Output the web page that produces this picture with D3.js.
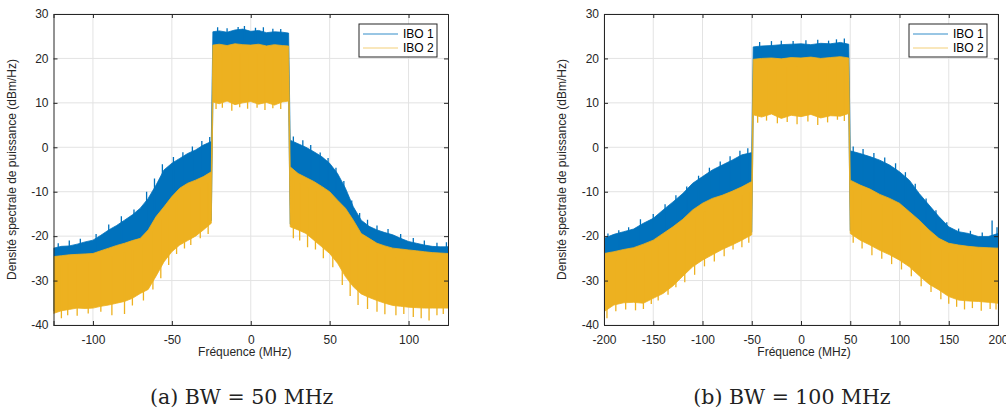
<!DOCTYPE html>
<html>
<head>
<meta charset="utf-8">
<script src="https://cdn.jsdelivr.net/npm/d3@7"></script>
<style>
  body { margin: 0; background: #fff; }
  svg { display: block; }
</style>
</head>
<body>
<svg id="chart" width="1006" height="410"></svg>
<script>
// ---- panel (a) : BW = 50 MHz ----
const freqA = [-125,-120,-115,-110,-105,-100,-95,-90,-85,-80,-75,-70,-65,-60,-55,-50,-45,-40,-35,-30,-25,
  -24,-20,-15,-10,-5,0,5,10,15,20,24,
  25,30,35,40,45,50,55,60,65,70,75,80,85,90,95,100,105,110,115,120,125];
const ibo1TopA = [-22.7,-22.3,-22.2,-21.8,-21.3,-20.9,-19.8,-18.6,-17.6,-16.4,-15.2,-13.7,-11.5,-8.5,-5.1,-3.6,-2.5,-1.4,-0.6,0.5,1.3,
  26.0,26.2,25.9,26.4,26.6,26.1,26.3,25.8,26.0,25.9,25.7,
  1.6,0.8,0.0,-1.0,-2.1,-3.6,-5.9,-9.2,-13.4,-16.4,-17.8,-18.6,-19.2,-19.7,-20.5,-21.2,-21.6,-22.0,-22.3,-22.4,-22.4];
const ibo2TopA = [-24.6,-24.4,-24.2,-24.1,-24.0,-23.9,-23.3,-22.7,-22.1,-21.6,-21.0,-20.5,-18.6,-15.6,-13.4,-11.1,-9.2,-8.1,-7.4,-6.6,-5.5,
  23.0,23.2,22.9,23.3,23.1,23.0,23.2,22.8,23.1,22.9,22.8,
  -4.4,-5.9,-6.8,-7.7,-8.8,-10.0,-11.9,-13.7,-16.4,-19.4,-20.5,-21.6,-22.2,-22.7,-22.9,-23.1,-23.3,-23.5,-23.7,-23.8,-23.9];
const ibo2BotA = [-37.4,-36.8,-36.5,-36.2,-36.3,-36.2,-35.8,-35.5,-35.1,-34.7,-34.0,-32.9,-32.0,-29.0,-25.8,-23.5,-22.0,-21.0,-20.0,-18.6,-17.1,
  10.2,9.8,10.4,9.6,10.0,10.3,9.7,10.1,9.5,10.2,10.4,
  -17.9,-18.6,-19.4,-20.9,-22.4,-23.9,-26.1,-29.1,-31.4,-33.0,-33.8,-34.5,-35.1,-35.6,-35.8,-36.0,-36.1,-36.2,-36.2,-36.2,-36.2];
// spikes seen on the edges: [frequency, value]
const ibo1PeaksA = [[-122,-21.6],[-115,-21],[-108,-20.6],[-98,-19.5],[-90,-17.4],[-82,-15.5],[-74,-14],[-66,-10],[-61,-7],
  [-56,-3.8],[-49,-2.2],[-43,-1.1],[-37,0.2],[-31,1.4],[-26,2.3],
  [-21,27],[-15,26.8],[-8,27.1],[-4,27.3],[3,26.9],[8,27],[14,26.7],[19,26.6],
  [27,2.4],[33,1.6],[38,0.5],[44,-1.2],[49,-2.4],[54,-4.6],[59,-7.6],[64,-12],[69,-14.8],[74,-16.3],[80,-17.6],
  [87,-18.4],[95,-19.5],[103,-20.4],[110,-21],[118,-21.5],[124,-21.4]];
const ibo2DipsA = [[-120,-38.5],[-116,-37.8],[-110,-37.9],[-103,-37.4],[-95,-37],[-88,-37.8],[-80,-37.5],[-75,-35.6],[-68,-34.5],
  [-62,-32],[-57,-29.5],[-52,-26.5],[-47,-24],[-42,-22.8],[-38,-22],[-32,-20.5],[-27,-19.5],
  [-22,8.6],[-18,8.9],[-12,8.2],[-7,9.0],[-2,8.7],[4,8.9],[9,8.4],[14,8.8],[19,8.6],
  [27,-20.5],[31,-21],[36,-22.5],[41,-23],[46,-25],[52,-27],[58,-31],[63,-33.5],[68,-35.5],[74,-36.4],[80,-37],
  [85,-37.6],[92,-37.8],[97,-37.5],[103,-38.2],[108,-38.5],[113,-39.0],[118,-37.8],[122,-37.5]];

// ---- panel (b) : BW = 100 MHz ----
const freqB = [-200,-190,-180,-170,-160,-150,-140,-130,-120,-110,-100,-90,-80,-70,-60,-50,
  -48.5,-40,-30,-20,-10,0,10,20,30,40,48.5,
  50,60,70,80,90,100,110,120,130,140,150,160,170,180,190,200];
const ibo1TopB = [-20.5,-19.6,-19.0,-18.4,-17.1,-16.0,-14.1,-12.3,-10.4,-8.1,-6.6,-5.1,-4.0,-2.9,-1.7,-1.2,
  22.6,22.8,22.9,23.1,23.2,23.3,23.1,23.4,23.3,23.6,23.2,
  -0.8,-1.4,-2.1,-2.9,-4.0,-5.5,-7.4,-10.4,-13.0,-15.6,-17.9,-19.0,-19.4,-20.1,-20.1,-19.4];
const ibo2TopB = [-23.9,-23.5,-23.0,-22.6,-21.8,-20.9,-19.4,-17.9,-16.2,-14.1,-12.6,-11.5,-10.8,-9.9,-8.9,-7.7,
  19.8,20.0,20.1,19.9,20.2,20.1,20.3,20.0,20.2,20.4,20.1,
  -7.4,-8.5,-9.4,-10.6,-11.5,-12.6,-14.5,-16.4,-18.6,-20.5,-21.6,-22.0,-22.3,-22.5,-22.6,-22.7];
const ibo2BotB = [-37.0,-35.5,-35.0,-34.9,-35.1,-34.0,-32.9,-31.2,-29.0,-26.9,-25.4,-24.2,-23.0,-22.0,-20.9,-19.7,
  7.3,6.8,7.5,6.5,7.2,6.9,7.4,6.6,7.1,7.0,7.6,
  -19.4,-20.9,-22.0,-23.2,-24.2,-25.4,-26.9,-28.9,-30.8,-32.1,-33.6,-34.4,-34.6,-34.7,-34.9,-35.1];
const ibo1PeaksB = [[-196,-19.4],[-185,-18.7],[-175,-18],[-163,-16.2],[-150,-15],[-138,-12.8],[-127,-10.8],[-116,-8.8],
  [-104,-6.4],[-93,-4.6],[-82,-3.2],[-72,-2],[-62,-0.8],[-54,-0.2],
  [-42,23.7],[-30,23.9],[-20,24],[-8,23.9],[5,24.1],[17,24.2],[28,24.0],[36,24.3],[44,24.5],
  [53,0.2],[63,-0.4],[74,-1.3],[85,-2.3],[96,-3.6],[106,-5.6],[116,-8.2],[127,-11.5],[137,-14.2],[148,-16.9],
  [160,-18.3],[172,-18.8],[184,-19.2],[194,-16.5],[199,-18]];
const ibo2DipsB = [[-197,-38.5],[-188,-36.9],[-178,-36.5],[-168,-36.7],[-160,-36.4],[-152,-35.3],[-145,-34.5],[-135,-33.2],
  [-127,-31.5],[-118,-30.4],[-108,-28.7],[-98,-26.8],[-88,-25.7],[-78,-24.5],[-69,-23],[-60,-22.5],[-53,-21.5],
  [-44,5.5],[-35,6.0],[-24,5.4],[-14,5.7],[-4,5.2],[7,5.8],[17,5.0],[27,5.6],[37,6.2],[44,5.9],
  [53,-21.5],[62,-22.8],[72,-24.3],[82,-25.1],[92,-26.3],[102,-27.5],[112,-29],[122,-31.3],[132,-32.6],[142,-34.2],
  [150,-35.2],[158,-35.9],[166,-36.5],[174,-36.2],[183,-36.8],[192,-36.4],[198,-36.5]];

const yTicks = [-40,-30,-20,-10,0,10,20,30];
const xTicksA = [-100,-50,0,50,100];
const xTicksB = [-200,-150,-100,-50,0,50,100,150,200];
const seriesNames = ["IBO 1", "IBO 2"];
const colors = ["#0072BD", "#EDB120"];

const svg = d3.select("#chart");
const font = "'Liberation Sans', Arial, sans-serif";
const axisColor = "#262626";

function drawPanel(cfg) {
  const { id, left, right, top, bottom, xDomain, xTicks, freq, top1, top2, bot2, peaks1, dips2, labelShift, caption } = cfg;
  const x = d3.scaleLinear().domain(xDomain).range([left, right]);
  const y = d3.scaleLinear().domain([-40, 30]).range([bottom, top]);
  const g = svg.append("g");

  g.append("clipPath").attr("id", id)
    .append("rect").attr("x", left).attr("y", top)
    .attr("width", right - left).attr("height", bottom - top);

  // grid
  g.append("g").selectAll("line").data(xTicks).join("line")
    .attr("x1", d => x(d)).attr("x2", d => x(d))
    .attr("y1", top).attr("y2", bottom)
    .attr("stroke", "#e3e3e3");
  g.append("g").selectAll("line").data(yTicks).join("line")
    .attr("x1", left).attr("x2", right)
    .attr("y1", d => y(d)).attr("y2", d => y(d))
    .attr("stroke", "#e3e3e3");

  const pts = freq.map((f, i) => ({ f, t1: top1[i], t2: top2[i], b2: bot2[i] }));
  const plot = g.append("g").attr("clip-path", `url(#${id})`);

  // piecewise envelopes, used to anchor the spikes on the band
  const env = arr => d3.scaleLinear().domain(freq).range(arr);
  const t1At = env(top1), t2At = env(top2), b2At = env(bot2);

  // IBO 1 (its floor lies under IBO 2)
  plot.append("path").datum(pts)
    .attr("fill", colors[0]).attr("stroke", colors[0]).attr("stroke-width", 0.8)
    .attr("d", d3.area().x(d => x(d.f)).y0(d => y(d.b2 + 0.6)).y1(d => y(d.t1)));
  plot.append("g").selectAll("line").data(peaks1).join("line")
    .attr("x1", d => x(d[0])).attr("x2", d => x(d[0]))
    .attr("y1", d => y(t2At(d[0]))).attr("y2", d => y(d[1]))
    .attr("stroke", colors[0]).attr("stroke-width", 1.3);

  // IBO 2
  plot.append("path").datum(pts)
    .attr("fill", colors[1]).attr("stroke", colors[1]).attr("stroke-width", 0.8)
    .attr("d", d3.area().x(d => x(d.f)).y0(d => y(d.b2)).y1(d => y(d.t2)));
  plot.append("g").selectAll("line").data(dips2).join("line")
    .attr("x1", d => x(d[0])).attr("x2", d => x(d[0]))
    .attr("y1", d => y(t2At(d[0]) - 2)).attr("y2", d => y(d[1]))
    .attr("stroke", colors[1]).attr("stroke-width", 1.3);

  // box axes, ticks pointing inward
  const fmt = d => String(d);
  const xb = g.append("g").attr("transform", `translate(0,${bottom})`)
    .call(d3.axisBottom(x).tickValues(xTicks).tickSize(-4).tickPadding(10).tickFormat(fmt));
  const xt = g.append("g").attr("transform", `translate(0,${top})`)
    .call(d3.axisTop(x).tickValues(xTicks).tickSize(-4).tickFormat(""));
  const yl = g.append("g").attr("transform", `translate(${left},0)`)
    .call(d3.axisLeft(y).tickValues(yTicks).tickSize(-4).tickPadding(5).tickFormat(fmt));
  const yr = g.append("g").attr("transform", `translate(${right},0)`)
    .call(d3.axisRight(y).tickValues(yTicks).tickSize(-4).tickFormat(""));
  [xb, xt, yl, yr].forEach(a => {
    a.attr("font-family", font).attr("font-size", 12);
    a.select(".domain").attr("stroke", axisColor);
    a.selectAll(".tick line").attr("stroke", axisColor);
    a.selectAll(".tick text").attr("fill", axisColor);
  });

  g.append("text").attr("x", (left + right) / 2 + labelShift).attr("y", bottom + 31)
    .attr("text-anchor", "middle").attr("fill", axisColor)
    .attr("font-family", font).attr("font-size", 12).text("Fréquence (MHz)");
  g.append("text")
    .attr("transform", `translate(${left - 38},${(top + bottom) / 2}) rotate(-90)`)
    .attr("text-anchor", "middle").attr("fill", axisColor)
    .attr("font-family", font).attr("font-size", 12)
    .text("Densité spectrale de puissance (dBm/Hz)");

  // legend
  const leg = g.append("g").attr("transform", `translate(${right - 89},${top + 10})`);
  leg.append("rect").attr("width", 78).attr("height", 33)
    .attr("fill", "#fff").attr("stroke", axisColor);
  seriesNames.forEach((name, i) => {
    leg.append("line").attr("x1", 4).attr("x2", 39)
      .attr("y1", 10 + i * 14).attr("y2", 10 + i * 14)
      .attr("stroke", colors[i]).attr("opacity", i ? 0.6 : 0.8);
    leg.append("text").attr("x", 44).attr("y", 10 + i * 14).attr("dy", "0.35em")
      .attr("fill", "#000").attr("font-family", font).attr("font-size", 12).text(name);
  });

  svg.append("text").attr("x", (left + right) / 2 - 9).attr("y", 404)
    .attr("text-anchor", "middle").attr("fill", "#222")
    .attr("font-family", "'DejaVu Serif', 'Liberation Serif', serif").attr("font-size", 20.5)
    .text(caption);
}

drawPanel({ id: "clipA", left: 53.5, right: 448, top: 14, bottom: 325, xDomain: [-125, 125], xTicks: xTicksA,
  freq: freqA, top1: ibo1TopA, top2: ibo2TopA, bot2: ibo2BotA, peaks1: ibo1PeaksA, dips2: ibo2DipsA,
  labelShift: -6, caption: "(a) BW = 50 MHz" });
drawPanel({ id: "clipB", left: 604, right: 998, top: 14, bottom: 325, xDomain: [-200, 200], xTicks: xTicksB,
  freq: freqB, top1: ibo1TopB, top2: ibo2TopB, bot2: ibo2BotB, peaks1: ibo1PeaksB, dips2: ibo2DipsB,
  labelShift: 3, caption: "(b) BW = 100 MHz" });
</script>
</body>
</html>
